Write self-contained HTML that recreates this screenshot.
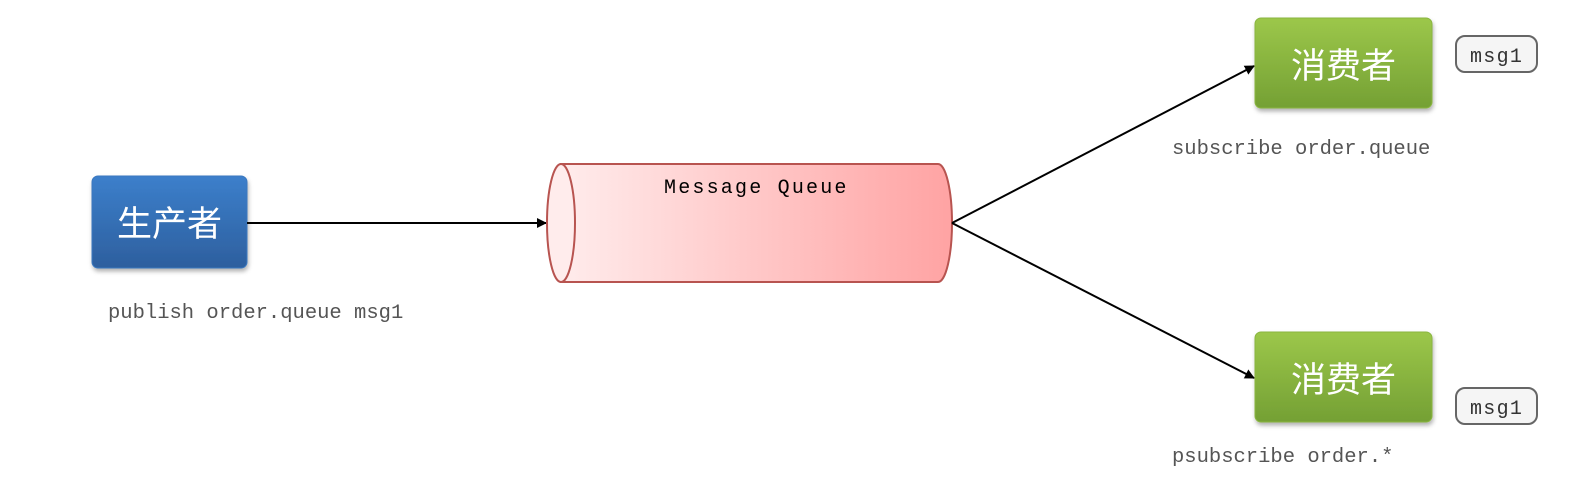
<!DOCTYPE html>
<html><head><meta charset="utf-8"><style>body{margin:0;background:#fff}</style></head><body>
<svg width="1587" height="480" xmlns="http://www.w3.org/2000/svg">
<defs>
<linearGradient id="b" x1="0" y1="0" x2="0" y2="1"><stop offset="0" stop-color="#3c7fcb"/><stop offset="1" stop-color="#2d5f9e"/></linearGradient>
<linearGradient id="g" x1="0" y1="0" x2="0" y2="1"><stop offset="0" stop-color="#9cc74a"/><stop offset="1" stop-color="#74a034"/></linearGradient>
<linearGradient id="r" x1="0" y1="0" x2="1" y2="0"><stop offset="0" stop-color="#ffecec"/><stop offset="1" stop-color="#ffa3a3"/></linearGradient>
<filter id="s" x="-10%" y="-10%" width="130%" height="140%"><feDropShadow dx="1" dy="3" stdDeviation="2" flood-opacity="0.3"/></filter>
<marker id="a" markerWidth="10" markerHeight="10" refX="9" refY="5" orient="auto" markerUnits="userSpaceOnUse"><path d="M0,0 L10,5 L0,10 z" fill="#000"/></marker>
</defs>
<rect x="92" y="176" width="155" height="92" rx="6" fill="url(#b)" stroke="#3a78c0" filter="url(#s)"/>
<text x="169.5" y="236" font-size="35" fill="#fff" text-anchor="middle" font-family="Noto Sans CJK SC,sans-serif">生产者</text>
<line x1="247" y1="223" x2="546" y2="223" stroke="#000" stroke-width="2" marker-end="url(#a)"/>
<path d="M561,164 L938,164 A14,59 0 0 1 938,282 L561,282 Z" fill="url(#r)" stroke="#b85450" stroke-width="2"/>
<ellipse cx="561" cy="223" rx="14" ry="59" fill="#ffecec" stroke="#b85450" stroke-width="2"/>
<text x="664" y="193" font-size="20" letter-spacing="2.2" fill="#000" font-family="Liberation Mono,monospace">Message Queue</text>
<line x1="952" y1="223" x2="1254" y2="66" stroke="#000" stroke-width="2" marker-end="url(#a)"/>
<line x1="952" y1="223" x2="1254" y2="378" stroke="#000" stroke-width="2" marker-end="url(#a)"/>
<rect x="1255" y="18" width="177" height="90" rx="6" fill="url(#g)" stroke="#8ab640" filter="url(#s)"/>
<text x="1343.5" y="78" font-size="35" fill="#fff" text-anchor="middle" font-family="Noto Sans CJK SC,sans-serif">消费者</text>
<rect x="1255" y="332" width="177" height="90" rx="6" fill="url(#g)" stroke="#8ab640" filter="url(#s)"/>
<text x="1343.5" y="392" font-size="35" fill="#fff" text-anchor="middle" font-family="Noto Sans CJK SC,sans-serif">消费者</text>
<rect x="1456" y="36" width="81" height="36" rx="9" fill="#f5f5f5" stroke="#666" stroke-width="2"/>
<text x="1470" y="62" font-size="20" letter-spacing="1.3" fill="#333" font-family="Liberation Mono,monospace">msg1</text>
<rect x="1456" y="388" width="81" height="36" rx="9" fill="#f5f5f5" stroke="#666" stroke-width="2"/>
<text x="1470" y="414" font-size="20" letter-spacing="1.3" fill="#333" font-family="Liberation Mono,monospace">msg1</text>
<g font-family="Liberation Mono,monospace" font-size="20.5" fill="#555">
<text x="108" y="318">publish order.queue msg1</text>
<text x="1172" y="154">subscribe order.queue</text>
<text x="1172" y="462">psubscribe order.*</text>
</g>
</svg>
</body></html>
